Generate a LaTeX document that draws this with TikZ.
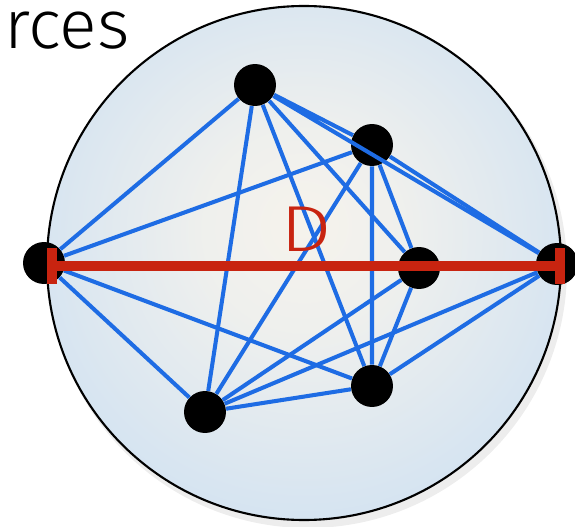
\documentclass[tikz,border=0pt]{standalone}
\usepackage{fontspec}
\newfontfamily\lightfont{Fira Sans Light}
\usetikzlibrary{calc,arrows.meta}
\definecolor{edgeblue}{RGB}{30,108,228}
\definecolor{barred}{RGB}{200,36,16}
\definecolor{discin}{RGB}{246,243,236}
\definecolor{discout}{RGB}{196,220,244}
\pgfdeclareradialshading{disc}{\pgfpoint{0bp}{4bp}}{color(0bp)=(discin); color(10bp)=(discin!85!discout); color(30bp)=(discout!75!discin); color(50bp)=(discout)}

\begin{document}
\begin{tikzpicture}[x=0.02cm,y=-0.02cm,
		vtx/.style={circle,fill=black,inner sep=0pt,minimum size=0.84cm},
		edge/.style={edgeblue,line width=2.3pt},
		dline/.style={barred,line width=5.6pt,{Bar[width=20.5pt,line width=5.6pt]}-{Bar[width=20.5pt,line width=5.6pt]}}]
				\useasboundingbox (0,0) rectangle (575,527);
				\coordinate (O) at (304,263);
				\fill[black,opacity=0.07] ($(O)+(4,6)$) circle (259);
				\shade[shading=disc] (O) circle (257);
				\draw[line width=1.2pt] (O) circle (257);
				\node[vtx] (A) at (44,263) {};
				\node[vtx] (B) at (255,85) {};
				\node[vtx] (C) at (372,145) {};
				\node[vtx] (D) at (419,268) {};
				\node[vtx] (E) at (557,264) {};
				\node[vtx] (F) at (372,386) {};
				\node[vtx] (G) at (205,412) {};
				\draw[edge] (A)--(B) (A)--(C) (A)--(D) (A)--(E) (A)--(F) (A)--(G);
				\draw[edge] (B)--(C) (B)--(D) (B)--(E) (B)--(F) (B)--(G);
				\draw[edge] (C)--(D) (C)--(E) (C)--(F) (C)--(G);
				\draw[edge] (D)--(E) (D)--(F) (D)--(G);
				\draw[edge] (E)--(F) (E)--(G);
				\draw[edge] (F)--(G);
				\draw[dline] ($(A.center)+(3,3)$) -- ($(E.center)+(8,2)$);
				\node[barred,inner sep=0pt] (dlabel) at (306,229) {\lightfont\fontsize{37}{40}\selectfont\scalebox{1.25}[1]{D}};
				\node[anchor=base west,inner sep=0pt,text height=22pt,text depth=0pt] (title) at (4,49) {\lightfont\fontsize{39}{44}\selectfont\scalebox{1.02}[1]{rces}};
			\end{tikzpicture}
\end{document}
